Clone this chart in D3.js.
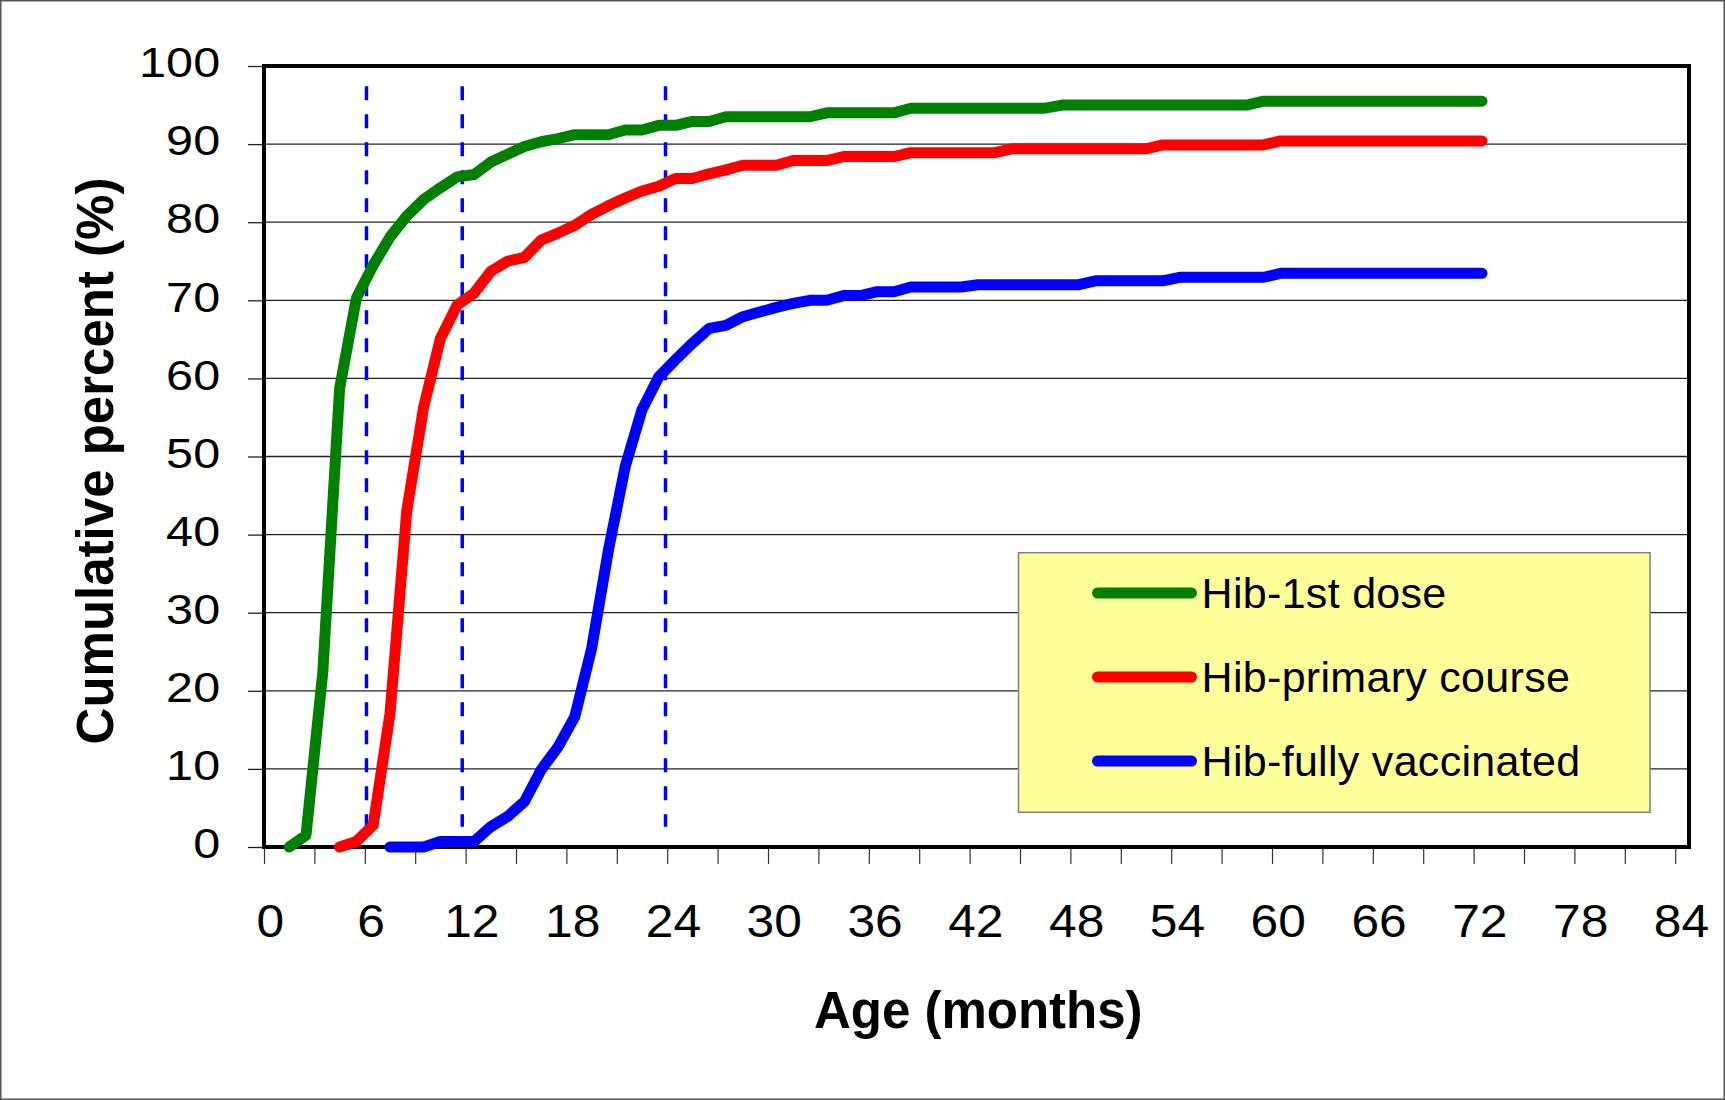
<!DOCTYPE html>
<html>
<head>
<meta charset="utf-8">
<script src="https://cdn.jsdelivr.net/npm/d3@7"></script>
<style>
  body { margin: 0; background: #fff; }
  svg { display: block; }
  text { font-family: "Liberation Sans", Arial, sans-serif; }
</style>
</head>
<body>
<svg id="chart" width="1725" height="1100"></svg>
<script>
// ---- data ----
const ages = [1.5, 2.5, 3.5, 4.5, 5.5, 6.5, 7.5, 8.5, 9.5, 10.5, 11.5, 12.5, 13.5, 14.5, 15.5, 16.5, 17.5, 18.5,
  19.5, 20.5, 21.5, 22.5, 23.5, 24.5, 25.5, 26.5, 27.5, 28.5, 29.5, 30.5, 31.5, 32.5, 33.5, 34.5, 35.5, 36.5,
  37.5, 38.5, 39.5, 40.5, 41.5, 42.5, 43.5, 44.5, 45.5, 46.5, 47.5, 48.5, 49.5, 50.5, 51.5, 52.5, 53.5, 54.5,
  55.5, 56.5, 57.5, 58.5, 59.5, 60.5, 61.5, 62.5, 63.5, 64.5, 65.5, 66.5, 67.5, 68.5, 69.5, 70.5, 71.5, 72.5];

const hibFirstDose = [0, 1.5, 22.4, 58.7, 70.3, 74.5, 78.1, 80.8, 82.9, 84.4, 85.8, 86.1, 87.7, 88.7, 89.7, 90.3, 90.7, 91.2,
  91.2, 91.2, 91.8, 91.8, 92.4, 92.4, 92.9, 92.9, 93.5, 93.5, 93.5, 93.5, 93.5, 93.5, 94.0, 94.0, 94.0, 94.0,
  94.0, 94.6, 94.6, 94.6, 94.6, 94.6, 94.6, 94.6, 94.6, 94.6, 95.0, 95.0, 95.0, 95.0, 95.0, 95.0, 95.0, 95.0,
  95.0, 95.0, 95.0, 95.0, 95.5, 95.5, 95.5, 95.5, 95.5, 95.5, 95.5, 95.5, 95.5, 95.5, 95.5, 95.5, 95.5, 95.5];

const hibPrimaryCourse = [null, null, null, 0, 0.7, 2.8, 17.1, 43.1, 56.3, 65.1, 69.4, 70.9, 73.7, 75.0, 75.5, 77.7, 78.6, 79.6,
  81.0, 82.1, 83.1, 84.0, 84.6, 85.6, 85.6, 86.2, 86.7, 87.3, 87.3, 87.3, 87.9, 87.9, 87.9, 88.4, 88.4, 88.4,
  88.4, 88.9, 88.9, 88.9, 88.9, 88.9, 88.9, 89.4, 89.4, 89.4, 89.4, 89.4, 89.4, 89.4, 89.4, 89.4, 89.9, 89.9,
  89.9, 89.9, 89.9, 89.9, 89.9, 90.4, 90.4, 90.4, 90.4, 90.4, 90.4, 90.4, 90.4, 90.4, 90.4, 90.4, 90.4, 90.4];

const hibFullyVaccinated = [null, null, null, null, null, null, 0, 0, 0, 0.7, 0.7, 0.7, 2.6, 3.9, 5.8, 9.9, 12.8, 16.7,
  25.4, 38.0, 48.7, 56.0, 60.2, 62.4, 64.5, 66.4, 66.8, 67.9, 68.5, 69.1, 69.6, 70.0, 70.0, 70.6, 70.6, 71.1,
  71.1, 71.7, 71.7, 71.7, 71.7, 72.0, 72.0, 72.0, 72.0, 72.0, 72.0, 72.0, 72.5, 72.5, 72.5, 72.5, 72.5, 72.95,
  72.95, 72.95, 72.95, 72.95, 72.95, 73.45, 73.45, 73.45, 73.45, 73.45, 73.45, 73.45, 73.45, 73.45, 73.45, 73.45, 73.45, 73.45];

const seriesNames = ["Hib-1st dose", "Hib-primary course", "Hib-fully vaccinated"];
const yTickValues = [0, 10, 20, 30, 40, 50, 60, 70, 80, 90, 100];
const xTickValues = [0, 3, 6, 9, 12, 15, 18, 21, 24, 27, 30, 33, 36, 39, 42, 45, 48, 51, 54, 57, 60, 63, 66, 69, 72, 75, 78, 81, 84];
const xLabelValues = [0, 6, 12, 18, 24, 30, 36, 42, 48, 54, 60, 66, 72, 78, 84];
const referenceAges = [6.1, 11.8, 23.9];
const referenceSpan = [2.6, 97.4];
const xTitle = "Age (months)";
const yTitle = "Cumulative percent (%)";

// ---- styles / layout ----
const seriesColors = ["#008000", "#ff0000", "#0000ff"];
const plot = { left: 264, top: 66, right: 1689, bottom: 847 };
const svg = d3.select("#chart");

const x = d3.scaleLinear().domain([0, 84]).range([264, 1675.2]);
const y = d3.scaleLinear().domain([0, 100]).range([plot.bottom, plot.top]);

// outer border
svg.append("rect")
  .attr("x", 0.75).attr("y", 0.75).attr("width", 1723.5).attr("height", 1098.5)
  .attr("fill", "#fff").attr("stroke", "#555").attr("stroke-width", 1.5);

// gridlines
svg.append("g").selectAll("line")
  .data(yTickValues.filter(v => v > 0 && v < 100))
  .join("line")
  .attr("x1", plot.left).attr("x2", plot.right)
  .attr("y1", d => y(d)).attr("y2", d => y(d))
  .attr("stroke", "#222").attr("stroke-width", 1.3);

// y axis
const yAxis = svg.append("g")
  .attr("transform", `translate(${plot.left},0)`)
  .call(d3.axisLeft(y).tickValues(yTickValues).tickSize(16).tickFormat(d3.format("d")));
yAxis.select(".domain").remove();
yAxis.selectAll(".tick line").attr("stroke", "#222").attr("stroke-width", 1.3);
yAxis.selectAll(".tick text")
  .attr("font-size", 43)
  .attr("fill", "#000")
  .attr("text-anchor", "end")
  .attr("x", -38.8)
  .attr("dy", "0.25em")
  .attr("transform", "scale(1.13,1)");

// x axis
const xAxis = svg.append("g")
  .attr("transform", `translate(0,${plot.bottom})`)
  .call(d3.axisBottom(x).tickValues(xTickValues).tickSize(17)
    .tickFormat(d => xLabelValues.includes(d) ? String(d) : ""));
xAxis.select(".domain").remove();
xAxis.selectAll(".tick line").attr("stroke", "#333").attr("stroke-width", 1.2);
xAxis.selectAll(".tick text")
  .attr("font-size", 46)
  .attr("fill", "#000")
  .attr("y", 89.7)
  .attr("dy", 0)
  .attr("x", 5.3)
  .attr("transform", "scale(1.08,1)");

// plot frame
svg.append("rect")
  .attr("x", plot.left).attr("y", plot.top)
  .attr("width", plot.right - plot.left).attr("height", plot.bottom - plot.top)
  .attr("fill", "none").attr("stroke", "#000").attr("stroke-width", 4);

// reference dashed lines
svg.append("g").selectAll("line")
  .data(referenceAges)
  .join("line")
  .attr("x1", d => x(d)).attr("x2", d => x(d))
  .attr("y1", y(referenceSpan[1])).attr("y2", y(referenceSpan[0]))
  .attr("stroke", "#0000ff").attr("stroke-width", 3.5)
  .attr("stroke-dasharray", "14,14");

// series
const seriesValues = [hibFirstDose, hibPrimaryCourse, hibFullyVaccinated];
const line = d3.line()
  .defined(d => d.v !== null)
  .x(d => x(d.a))
  .y(d => y(d.v));

svg.append("g").selectAll("path")
  .data(seriesValues)
  .join("path")
  .attr("d", vals => line(ages.map((a, i) => ({ a: a, v: vals[i] }))))
  .attr("fill", "none")
  .attr("stroke", (d, i) => seriesColors[i])
  .attr("stroke-width", 11)
  .attr("stroke-linecap", "round")
  .attr("stroke-linejoin", "round");

// legend
const legend = svg.append("g");
legend.append("rect")
  .attr("x", 1018.5).attr("y", 552.7).attr("width", 631.5).attr("height", 259.6)
  .attr("fill", "#ffff99").attr("stroke", "#808080").attr("stroke-width", 1.5);
const items = legend.selectAll("g.item")
  .data(seriesNames)
  .join("g")
  .attr("class", "item")
  .attr("transform", (d, i) => `translate(0,${i * 84})`);
items.append("line")
  .attr("x1", 1097.5).attr("x2", 1191.5)
  .attr("y1", 593).attr("y2", 593)
  .attr("stroke", (d, i) => seriesColors[i])
  .attr("stroke-width", 11)
  .attr("stroke-linecap", "round");
items.append("text")
  .attr("x", 1201.6).attr("y", 608.3)
  .attr("font-size", 43)
  .attr("letter-spacing", 0.3)
  .attr("fill", "#000")
  .text(d => d);

// axis titles
svg.append("text")
  .attr("x", 978.3).attr("y", 1028.2)
  .attr("text-anchor", "middle")
  .attr("font-size", 51).attr("font-weight", "bold")
  .attr("fill", "#000")
  .text(xTitle);

svg.append("text")
  .attr("transform", "translate(113.3,461) rotate(-90)")
  .attr("text-anchor", "middle")
  .attr("font-size", 51).attr("font-weight", "bold")
  .attr("fill", "#000")
  .text(yTitle);
</script>
</body>
</html>
